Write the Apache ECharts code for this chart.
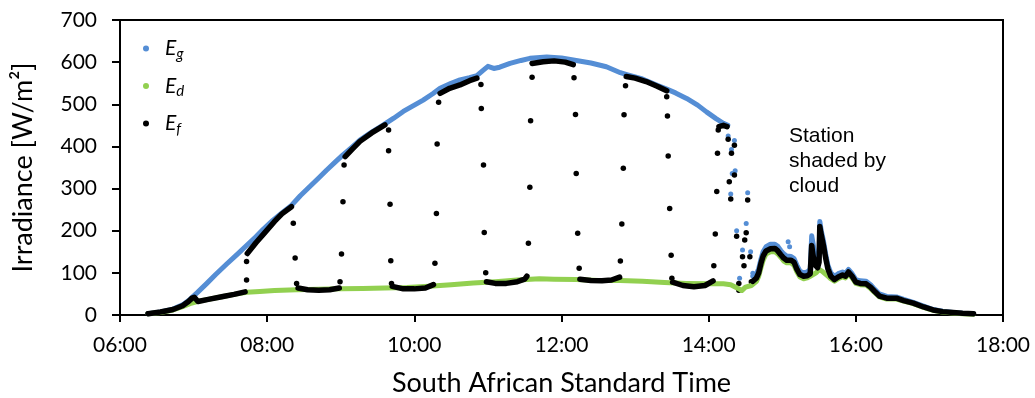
<!DOCTYPE html>
<html>
<head>
<meta charset="utf-8">
<script src="https://cdn.jsdelivr.net/npm/echarts@6/dist/echarts.min.js"></script>
<style>
  html, body { margin: 0; padding: 0; background: #fff; }
  #chart { width: 1035px; height: 398px; }
</style>
</head>
<body>
<div id="chart"></div>
<script>
// time in decimal hours, irradiance in W/m2
var xTicks = [6, 8, 10, 12, 14, 16, 18];

// global horizontal (clear part of the day)
var egClear = [
  [6.38, 3], [6.55, 7], [6.72, 14], [6.85, 24], [6.95, 37], [7.05, 53], [7.18, 75],
  [7.30, 96], [7.45, 121], [7.60, 145], [7.72, 165], [7.85, 186], [7.95, 204],
  [8.08, 225], [8.20, 242], [8.33, 260], [8.45, 283], [8.58, 305], [8.70, 325],
  [8.81, 344], [8.92, 362], [9.03, 380], [9.15, 398], [9.26, 415], [9.42, 434],
  [9.58, 451], [9.72, 467], [9.85, 483], [10.00, 498], [10.12, 510], [10.25, 525],
  [10.35, 538], [10.50, 550], [10.62, 558], [10.75, 563], [10.85, 568], [10.93, 580],
  [11.00, 590], [11.08, 585], [11.16, 588], [11.30, 597], [11.45, 604], [11.57, 609],
  [11.80, 612], [12.00, 610], [12.20, 604], [12.40, 598], [12.61, 589], [12.80, 575],
  [12.90, 570], [13.10, 560], [13.30, 545], [13.43, 536], [13.55, 527], [13.70, 514],
  [13.85, 498], [13.97, 482], [14.10, 466], [14.20, 455], [14.26, 450]
];
var egDots = [
  [14.265, 425], [14.35, 414], [14.31, 393], [14.36, 342], [14.32, 336], [14.30, 287],
  [14.53, 290], [14.51, 217], [14.38, 200], [14.46, 154], [14.57, 150], [14.42, 87],
  [14.60, 99], [15.08, 174], [15.10, 162]
];
var egCloud = [
  [14.60, 92], [14.65, 98], [14.68, 110], [14.71, 132], [14.74, 150], [14.78, 162],
  [14.84, 168], [14.90, 168], [14.94, 163], [14.98, 153], [15.02, 145], [15.06, 140],
  [15.12, 139], [15.16, 134], [15.20, 118], [15.24, 104], [15.29, 100], [15.34, 102],
  [15.38, 108], [15.40, 188], [15.42, 168], [15.45, 128], [15.48, 122], [15.50, 135],
  [15.51, 222], [15.53, 200], [15.56, 176], [15.59, 145], [15.62, 118], [15.66, 100],
  [15.71, 92], [15.76, 98], [15.82, 102], [15.86, 99], [15.90, 108], [15.95, 98],
  [16.00, 84], [16.06, 81], [16.14, 80], [16.20, 72], [16.25, 62], [16.32, 50],
  [16.42, 44], [16.55, 43], [16.65, 37], [16.78, 30], [16.92, 21], [17.05, 13],
  [17.18, 9], [17.32, 6], [17.45, 4], [17.60, 3]
];

// diffuse
var edCurve = [
  [6.38, 3], [6.55, 6], [6.72, 12], [6.85, 20], [6.95, 27], [7.05, 32], [7.20, 37],
  [7.40, 44], [7.55, 49], [7.72, 54], [7.90, 56], [8.10, 58], [8.40, 60], [8.70, 61],
  [9.00, 62], [9.30, 63], [9.60, 64], [9.90, 65], [10.20, 68], [10.50, 72], [10.80, 76],
  [11.10, 79], [11.40, 83], [11.70, 86], [11.90, 85], [12.20, 84], [12.50, 82],
  [12.80, 82], [13.10, 80], [13.40, 77], [13.70, 75], [14.00, 74], [14.20, 74],
  [14.30, 72], [14.40, 63], [14.45, 58], [14.50, 66], [14.58, 70], [14.65, 80],
  [14.68, 92], [14.71, 112], [14.74, 130], [14.78, 145], [14.84, 150], [14.90, 150],
  [14.94, 145], [14.98, 137], [15.02, 128], [15.06, 124], [15.12, 124], [15.16, 118],
  [15.20, 102], [15.24, 90], [15.29, 86], [15.34, 88], [15.38, 92], [15.42, 96],
  [15.46, 100], [15.50, 108], [15.54, 104], [15.58, 98], [15.62, 92], [15.66, 86],
  [15.71, 80], [15.76, 86], [15.82, 91], [15.86, 88], [15.90, 98], [15.95, 88],
  [16.00, 75], [16.06, 72], [16.14, 71], [16.20, 63], [16.25, 54], [16.32, 43],
  [16.42, 38], [16.55, 38], [16.65, 33], [16.78, 27], [16.92, 18], [17.05, 11],
  [17.18, 7], [17.32, 5], [17.45, 3], [17.60, 2]
];

// measured plane (shaded / unshaded runs)
var efSegs = [
  [[6.38, 3], [6.55, 7], [6.72, 13], [6.85, 22], [6.93, 32], [6.98, 40], [7.01, 42],
   [7.06, 32], [7.20, 37], [7.40, 44], [7.55, 49], [7.70, 55]],
  [[7.73, 146], [7.85, 172], [7.95, 192], [8.10, 222], [8.20, 240], [8.33, 257]],
  [[8.42, 64], [8.55, 60], [8.70, 59], [8.85, 60], [8.98, 64]],
  [[9.06, 376], [9.16, 394], [9.26, 412], [9.42, 432], [9.60, 451]],
  [[9.70, 68], [9.85, 62], [10.00, 62], [10.15, 64], [10.26, 72]],
  [[10.35, 526], [10.48, 538], [10.62, 546], [10.75, 556], [10.85, 562]],
  [[10.98, 79], [11.10, 75], [11.25, 75], [11.40, 79], [11.50, 85], [11.53, 92]],
  [[11.60, 597], [11.75, 601], [11.90, 603], [12.05, 600], [12.16, 594]],
  [[12.25, 85], [12.40, 82], [12.55, 81], [12.68, 83], [12.79, 90]],
  [[12.88, 566], [13.00, 562], [13.15, 554], [13.30, 543], [13.43, 532]],
  [[13.51, 78], [13.65, 70], [13.80, 67], [13.95, 70], [14.06, 81]],
  [[14.14, 447], [14.20, 450], [14.25, 447]],
  [[14.60, 80], [14.65, 88], [14.68, 100], [14.71, 122], [14.74, 140], [14.78, 152],
   [14.84, 157], [14.90, 158], [14.94, 152], [14.98, 143], [15.02, 135], [15.06, 130],
   [15.12, 130], [15.16, 125], [15.20, 108], [15.24, 96], [15.29, 92], [15.34, 93],
   [15.38, 98], [15.40, 165], [15.42, 140], [15.45, 118], [15.48, 112], [15.50, 125],
   [15.51, 210], [15.53, 190], [15.56, 165], [15.59, 135], [15.62, 110], [15.66, 92],
   [15.71, 84], [15.76, 90], [15.82, 95], [15.86, 92], [15.90, 102], [15.95, 92],
   [16.00, 78], [16.06, 75], [16.14, 74], [16.20, 66], [16.25, 57], [16.32, 45],
   [16.42, 40], [16.55, 40], [16.65, 34], [16.78, 28], [16.92, 19], [17.05, 12],
   [17.18, 8], [17.32, 6], [17.45, 4], [17.60, 3]]
];
var efDots = [
  [7.72, 83], [7.72, 127],
  [8.355, 218], [8.38, 135], [8.40, 75],
  [8.99, 79], [9.01, 145], [9.03, 269], [9.045, 356],
  [9.65, 439], [9.65, 390], [9.67, 263], [9.68, 129], [9.69, 75],
  [10.28, 123], [10.30, 241], [10.31, 406], [10.33, 505],
  [10.905, 547], [10.91, 490], [10.94, 356], [10.95, 196], [10.97, 100],
  [11.55, 170], [11.57, 303], [11.58, 461], [11.60, 564],
  [12.17, 563], [12.19, 476], [12.20, 336], [12.22, 194], [12.24, 111],
  [12.80, 128], [12.82, 216], [12.84, 348], [12.85, 475], [12.87, 544],
  [13.43, 518], [13.44, 472], [13.45, 377], [13.47, 253], [13.49, 142], [13.50, 87],
  [14.07, 117], [14.09, 192], [14.11, 293], [14.12, 384], [14.13, 439],
  [14.265, 417], [14.35, 403], [14.31, 384], [14.35, 332], [14.28, 316], [14.30, 275],
  [14.53, 273], [14.51, 195], [14.38, 187], [14.49, 178], [14.46, 138], [14.56, 138],
  [14.48, 117], [14.41, 75], [14.41, 59], [14.58, 79]
];

var blue = '#558ed5';
var green = '#92d050';
var black = '#000000';

function lineSeries(name, data, color, width) {
  return {
    name: name,
    type: 'line',
    data: data,
    symbol: 'none',
    smooth: false,
    silent: true,
    lineStyle: { color: color, width: width, cap: 'round', join: 'round' },
    itemStyle: { color: color }
  };
}
function dotSeries(name, data, color, size) {
  return {
    name: name,
    type: 'scatter',
    data: data,
    symbol: 'circle',
    symbolSize: size,
    silent: true,
    itemStyle: { color: color, opacity: 1 }
  };
}

var series = [];
series.push(lineSeries('Eg', egClear, blue, 5));
series.push(dotSeries('Eg', egDots, blue, 5));
series.push(lineSeries('Eg', egCloud, blue, 5));
series.push(lineSeries('Ed', edCurve, green, 5));
for (var i = 0; i < efSegs.length; i++) {
  series.push(lineSeries('Ef', efSegs[i], black, 5.5));
}
series.push(dotSeries('Ef', efDots, black, 5.5));

var subs = { Eg: 'g', Ed: 'd', Ef: 'f' };

var myChart = echarts.init(document.getElementById('chart'), null, { renderer: 'canvas' });
var option = {
  animation: false,
  backgroundColor: '#fff',
  grid: {
    left: 120, right: 32, top: 20, bottom: 83,
    outerBoundsMode: 'none',
    containLabel: false,
    show: true, borderColor: '#000', borderWidth: 2
  },
  legend: {
    orient: 'vertical',
    left: 138,
    top: 33,
    itemWidth: 6,
    itemHeight: 6,
    itemGap: 14,
    icon: 'circle',
    selectedMode: false,
    data: ['Eg', 'Ed', 'Ef'],
    formatter: function (name) {
      return '{e|E}{s|' + subs[name] + '}';
    },
    textStyle: {
      padding: [0, 0, 0, 11],
      rich: {
        e: { fontFamily: 'Lato', fontStyle: 'italic', fontSize: 21, color: '#000', lineHeight: 26, verticalAlign: 'middle' },
        s: { fontFamily: 'Lato', fontStyle: 'italic', fontSize: 15, color: '#000', verticalAlign: 'bottom' }
      }
    }
  },
  xAxis: {
    type: 'value',
    min: 6,
    max: 18,
    interval: 2,
    name: 'South African Standard Time',
    nameLocation: 'middle',
    nameGap: 55,
    nameTextStyle: { fontFamily: 'Lato', fontSize: 27, color: '#000' },
    axisLine: { lineStyle: { color: '#000', width: 2 } },
    axisTick: { show: true, length: 7, lineStyle: { color: '#000', width: 2 } },
    axisLabel: {
      margin: 20,
      fontFamily: 'Lato', fontSize: 21, color: '#000',
      formatter: function (v) {
        return (v < 10 ? '0' : '') + v + ':00';
      }
    },
    splitLine: { show: false }
  },
  yAxis: {
    type: 'value',
    min: 0,
    max: 700,
    interval: 100,
    name: 'Irradiance [W/m²]',
    nameLocation: 'middle',
    nameGap: 83,
    nameTextStyle: { fontFamily: 'Lato', fontSize: 27, color: '#000' },
    axisLine: { show: true, lineStyle: { color: '#000', width: 2 } },
    axisTick: { show: true, length: 8, lineStyle: { color: '#000', width: 2 } },
    axisLabel: { margin: 23, fontFamily: 'Lato', fontSize: 21, color: '#000' },
    splitLine: { show: false }
  },
  graphic: [{
    type: 'text',
    left: 789,
    top: 124,
    silent: true,
    style: {
      text: 'Station\nshaded by\ncloud',
      fontFamily: 'Liberation Sans',
      fontSize: 21,
      lineHeight: 25,
      fill: '#000'
    }
  }],
  series: series
};
myChart.setOption(option);
window.onresize = myChart.resize;
</script>
</body>
</html>
